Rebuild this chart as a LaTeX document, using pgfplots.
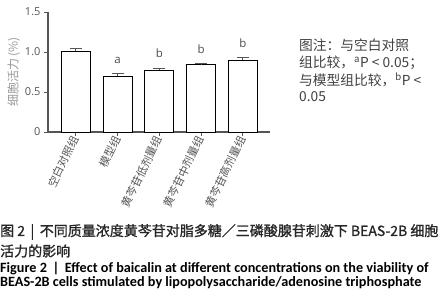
\documentclass[border=0pt]{standalone}
\usepackage{pgfplots}
\pgfplotsset{compat=1.18}
\usepackage{fontspec}
\setmainfont{Open Sans}
\newfontfamily\cjk{Noto Sans CJK SC}
\newfontfamily\cjkb[FakeBold=1.2]{Noto Sans CJK SC}
\newfontfamily\capfont{Carlito}
\definecolor{axgray}{HTML}{555555}
\definecolor{lblgray}{HTML}{999999}
\begin{document}
\begin{tikzpicture}
\useasboundingbox (0pt,0pt) rectangle (447pt,300pt);
\begin{axis}[
  at={(48pt,168pt)}, anchor=south west,
  scale only axis, width=222pt, height=120pt,
  xmin=-0.67, xmax=4.65, ymin=0, ymax=1.5,
  axis x line*=bottom, axis y line*=left,
  axis line style={axgray, line width=1.6pt, -},
  ytick={0,0.5,1.0,1.5}, yticklabels={0,0.5,1.0,1.5},
  yticklabel style={font=\fontsize{11}{11}\selectfont, text=axgray},
  ytick style={axgray, line width=1pt},
  tick align=outside, major tick length=4pt,
  xtick={0,1,2,3,4},
  xticklabels={空白对照组,模型组,黄芩苷低剂量组,黄芩苷中剂量组,黄芩苷高剂量组},
  xticklabel style={font=\cjk\fontsize{11}{11}\selectfont, text=axgray, rotate=64, anchor=east, inner sep=1pt},
  xtick style={axgray, line width=1pt},
  ylabel={\cjk 细胞活力 (\%)},
  ylabel style={font=\fontsize{12}{12}\selectfont, text=lblgray, at={(ticklabel cs:0.5)}, anchor=south, yshift=-2pt},
  clip=false,
]
\addplot[ybar, bar width=29pt, fill=white, draw=black, line width=1pt,
  error bars/.cd, y dir=plus, y explicit,
  error bar style={axgray, line width=1pt}, error mark options={rotate=90, mark size=6pt, axgray, line width=1pt}]
  coordinates {
  (0,1.01) +- (0,0.03)
  (1,0.70) +- (0,0.03)
  (2,0.77) +- (0,0.03)
  (3,0.84) +- (0,0.02)
  (4,0.90) +- (0,0.03)
};
\addplot[only marks, mark=none, nodes near coords, point meta=explicit symbolic,
  nodes near coords style={anchor=center, font=\fontsize{11.5}{11.5}\selectfont, text=black!70}]
  coordinates {(1,0.90)[a] (2,0.99)[b] (3,1.03)[b] (4,1.11)[b]};
\end{axis}
\begin{scope}[every node/.style={anchor=west, inner sep=0pt, font=\cjk\fontsize{13.75}{13.75}\selectfont, text=black!75}]
\node at (299pt,255pt) {图注：与空白对照};
\node at (299pt,237pt) {组比较，\textsuperscript{a}\textit{P} < 0.05；};
\node at (299pt,220pt) {与模型组比较，\textsuperscript{b}\textit{P} <};
\node at (299pt,203pt) {0.05};
\end{scope}
\begin{scope}[every node/.style={anchor=west, inner sep=0pt}]
\node[font=\cjkb\fontsize{14}{14}\selectfont, text=black!85] at (0pt,68pt) {图 2 \,|\, 不同质量浓度黄芩苷对脂多糖／三磷酸腺苷刺激下 BEAS-2B 细胞};
\node[font=\cjkb\fontsize{14}{14}\selectfont, text=black!85] at (0pt,49pt) {活力的影响};
\node[font=\capfont\bfseries\fontsize{14.2}{14.2}\selectfont] at (0pt,31pt) {Figure 2 \,|\, Effect of baicalin at different concentrations on the viability of};
\node[font=\capfont\bfseries\fontsize{14.2}{14.2}\selectfont] at (0pt,17pt) {BEAS-2B cells stimulated by lipopolysaccharide/adenosine triphosphate};
\end{scope}
\end{tikzpicture}
\end{document}
